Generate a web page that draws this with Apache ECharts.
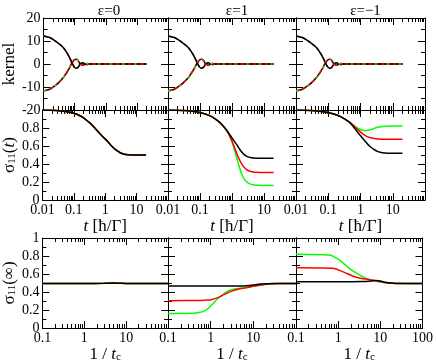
<!DOCTYPE html>
<html>
<head>
<meta charset="utf-8">
<script src="https://cdn.jsdelivr.net/npm/echarts@6/dist/echarts.min.js"></script>
<style>
html, body { margin: 0; padding: 0; background: #fff; }
#main { width: 436px; height: 364px; }
</style>
</head>
<body>
<div id="main"></div>
<script>
var FONT = 'Liberation Serif';
var BLACK = '#000000', RED = '#ff0000', GREEN = '#00ff00';

var titles = ['ε=0', 'ε=1', 'ε=−1'];

// kernel vs t (top row) - the three curves overlap in every panel
var kernelUp = [[0.01, 12.2], [0.015, 11.6], [0.02, 10.7], [0.03, 9.0], [0.042, 7.3], [0.055, 5.1],
  [0.068, 2.9], [0.08, 0.8], [0.09, -0.6], [0.1, -1.5], [0.115, -1.9], [0.13, -1.3], [0.145, -0.3],
  [0.16, 0.3], [0.185, 0.5], [0.21, 0.1], [0.24, -0.2], [0.28, 0], [0.4, 0], [1, 0], [20, 0]];
var kernelDown = [[0.01, -11.6], [0.015, -11.1], [0.02, -10.1], [0.03, -8.2], [0.042, -6.1], [0.055, -3.8],
  [0.068, -1.7], [0.08, 0.3], [0.09, 1.3], [0.1, 1.9], [0.115, 2.1], [0.13, 1.4], [0.145, 0.3],
  [0.16, -0.3], [0.185, -0.5], [0.21, -0.1], [0.24, 0.2], [0.28, 0], [0.4, 0], [1, 0], [20, 0]];

// sigma_11(t) (middle row)
var sigT_eps0 = [[0.01, 1], [0.02, 0.998], [0.04, 0.99], [0.068, 0.978], [0.1, 0.963], [0.14, 0.944],
  [0.2, 0.914], [0.29, 0.87], [0.4, 0.826], [0.59, 0.76], [0.8, 0.71], [1.2, 0.65], [1.6, 0.6],
  [2.2, 0.556], [3, 0.525], [4, 0.509], [5.5, 0.502], [8, 0.5], [20, 0.5]];
var sigT_eps1_black = [[0.01, 1], [0.03, 0.995], [0.05, 0.99], [0.1, 0.972], [0.2, 0.938], [0.3, 0.9],
  [0.45, 0.85], [0.7, 0.77], [1.0, 0.69], [1.4, 0.615], [1.8, 0.556], [2.3, 0.51], [2.9, 0.485],
  [3.7, 0.472], [4.6, 0.466], [8, 0.463], [20, 0.463]];
var sigT_eps1_red = [[0.01, 1], [0.03, 0.995], [0.05, 0.99], [0.1, 0.972], [0.2, 0.938], [0.3, 0.9],
  [0.45, 0.85], [0.7, 0.765], [0.9, 0.69], [1.15, 0.6], [1.47, 0.5], [1.75, 0.44], [2.1, 0.39],
  [2.6, 0.35], [3.2, 0.328], [4.2, 0.314], [5.9, 0.307], [10, 0.305], [20, 0.305]];
var sigT_eps1_green = [[0.01, 1], [0.03, 0.995], [0.05, 0.99], [0.1, 0.972], [0.2, 0.938], [0.3, 0.9],
  [0.45, 0.85], [0.7, 0.765], [0.9, 0.69], [1.1, 0.6], [1.35, 0.49], [1.65, 0.38], [2.0, 0.29],
  [2.4, 0.232], [3.0, 0.196], [3.8, 0.176], [5.0, 0.166], [8, 0.161], [20, 0.16]];
var sigT_epsm1_black = [[0.01, 1], [0.03, 0.995], [0.07, 0.98], [0.14, 0.958], [0.24, 0.926], [0.43, 0.87],
  [0.6, 0.815], [0.79, 0.76], [1.05, 0.705], [1.43, 0.65], [1.9, 0.6], [2.6, 0.562], [3.5, 0.537],
  [4.8, 0.526], [10, 0.52], [20, 0.52]];
var sigT_epsm1_red = [[0.01, 1], [0.03, 0.995], [0.07, 0.98], [0.14, 0.958], [0.24, 0.926], [0.43, 0.87],
  [0.6, 0.83], [0.8, 0.785], [1.13, 0.74], [1.5, 0.71], [2.06, 0.692], [3, 0.68], [4.2, 0.675], [20, 0.674]];
var sigT_epsm1_green = [[0.01, 1], [0.03, 0.995], [0.07, 0.98], [0.14, 0.958], [0.24, 0.926], [0.43, 0.87],
  [0.6, 0.832], [0.8, 0.8], [1.0, 0.783], [1.3, 0.773], [1.7, 0.775], [2.3, 0.787], [3.2, 0.805],
  [4.2, 0.815], [6, 0.82], [8.6, 0.822], [20, 0.822]];

// sigma_11(inf) vs 1/tc (bottom row)
var sigInf_eps0 = [[0.1, 0.495], [1, 0.495], [3, 0.496], [5, 0.5], [7, 0.497], [10, 0.495], [100, 0.495]];
var sigInf_eps1_black = [[0.1, 0.467], [1, 0.467], [3, 0.467], [6, 0.468], [9, 0.475], [15, 0.488],
  [30, 0.494], [100, 0.495]];
var sigInf_eps1_red = [[0.1, 0.304], [0.5, 0.305], [0.8, 0.31], [1.03, 0.315], [1.48, 0.337], [2.1, 0.374],
  [3, 0.407], [4.4, 0.43], [6.2, 0.443], [10.7, 0.467], [20, 0.486], [40, 0.494], [100, 0.495]];
var sigInf_eps1_green = [[0.1, 0.16], [0.3, 0.162], [0.5, 0.17], [0.72, 0.19], [1.03, 0.25], [1.48, 0.33],
  [2.1, 0.385], [2.8, 0.42], [4.4, 0.44], [6.2, 0.447], [10.7, 0.467], [20, 0.486], [40, 0.494], [100, 0.495]];
var sigInf_epsm1_black = [[0.1, 0.515], [1, 0.515], [4, 0.516], [6, 0.522], [7.8, 0.527], [10, 0.522],
  [13, 0.508], [20, 0.498], [30, 0.495], [100, 0.495]];
var sigInf_epsm1_red = [[0.1, 0.67], [0.4, 0.668], [0.75, 0.663], [1.28, 0.626], [2.2, 0.578], [3.2, 0.556],
  [4.5, 0.544], [7.8, 0.526], [13.3, 0.504], [20, 0.497], [30, 0.495], [100, 0.495]];
var sigInf_epsm1_green = [[0.1, 0.819], [0.4, 0.815], [0.63, 0.81], [0.85, 0.785], [1.07, 0.756],
  [1.4, 0.71], [1.84, 0.663], [2.5, 0.62], [3.2, 0.59], [4.2, 0.56], [5.4, 0.54], [9.3, 0.515],
  [16, 0.5], [30, 0.496], [100, 0.495]];

// axis ranges
var xMinRow = [0.01, 0.01, 0.1];
var xMax = 100;
var yRangeRow = [[-20, 20, 10], [0, 1, 0.2], [0, 1, 0.2]];

// layout
var colLeft = [40, 168, 296];
var colWidth = [128, 128, 129];
var rowTop = [18, 110, 238];
var rowHeight = [92, 90, 90];

var rich = {
  n: { fontFamily: FONT, fontSize: 17 },
  i: { fontFamily: FONT, fontSize: 17, fontStyle: 'italic' },
  s: { fontFamily: FONT, fontSize: 11, verticalAlign: 'bottom', lineHeight: 14, padding: [6, 0, 0, 0] }
};
var yNames = ['{n|kernel}', '{n|σ}{s|11}{n|(}{i|t}{n|)}', '{n|σ}{s|11}{n|(∞)}'];
var xNames = ['', '{i|t}{n| [ħ/Γ]}', '{n|1 / }{i|t}{s|c}'];

var kernelLines = [[kernelUp, RED, [4, 2]], [kernelUp, GREEN, [2, 10]], [kernelUp, BLACK, 'solid'],
  [kernelDown, BLACK, 'solid'], [kernelDown, RED, [4, 2]], [kernelDown, GREEN, [2, 10]]];
var panels = [
  [kernelLines, kernelLines, kernelLines],
  [
    [[sigT_eps0, GREEN, 'solid'], [sigT_eps0, RED, 'solid'], [sigT_eps0, BLACK, 'solid']],
    [[sigT_eps1_green, GREEN, 'solid'], [sigT_eps1_red, RED, 'solid'], [sigT_eps1_black, BLACK, 'solid']],
    [[sigT_epsm1_green, GREEN, 'solid'], [sigT_epsm1_red, RED, 'solid'], [sigT_epsm1_black, BLACK, 'solid']]
  ],
  [
    [[sigInf_eps0, GREEN, 'solid'], [sigInf_eps0, RED, 'solid'], [sigInf_eps0, BLACK, 'solid']],
    [[sigInf_eps1_green, GREEN, 'solid'], [sigInf_eps1_red, RED, 'solid'], [sigInf_eps1_black, BLACK, 'solid']],
    [[sigInf_epsm1_green, GREEN, 'solid'], [sigInf_epsm1_red, RED, 'solid'], [sigInf_epsm1_black, BLACK, 'solid']]
  ]
];

// minor tick positions (2..9 per decade), in log10 units for an overlay value axis
function minorLogValues(min, max) {
  var out = [];
  for (var d = min; d < max * 0.999; d *= 10) {
    for (var k = 2; k <= 9; k++) out.push(Math.log10(d * k));
  }
  return out;
}

function fmt(v) { return String(parseFloat(Number(v).toPrecision(4))); }

var grids = [], xAxes = [], yAxes = [], series = [];

for (var r = 0; r < 3; r++) {
  for (var c = 0; c < 3; c++) {
    var g = grids.length;
    grids.push({ left: colLeft[c], top: rowTop[r], width: colWidth[c], height: rowHeight[r] });
    var xmin = xMinRow[r];
    var minors = minorLogValues(xmin, xMax);
    ['bottom', 'top'].forEach(function (pos) {
      var isBottom = pos === 'bottom';
      xAxes.push({
        type: 'log', logBase: 10, gridIndex: g, position: pos, min: xmin, max: xMax,
        splitLine: { show: false },
        axisLine: { show: true, onZero: false, lineStyle: { color: BLACK, width: 1 } },
        axisTick: { inside: true, length: 7, lineStyle: { color: BLACK } },
        axisLabel: {
          show: isBottom && r > 0, margin: 3, color: BLACK, fontFamily: FONT, fontSize: 14,
          showMinLabel: true, showMaxLabel: r === 2 && c === 2, formatter: fmt
        },
        name: isBottom && r > 0 ? xNames[r] : '',
        nameLocation: 'middle', nameGap: 17,
        nameTextStyle: { rich: rich }
      });
      xAxes.push({
        type: 'value', gridIndex: g, position: pos, min: Math.log10(xmin), max: Math.log10(xMax),
        splitLine: { show: false },
        axisLine: { show: false, onZero: false },
        axisTick: { inside: true, length: 4, customValues: minors, lineStyle: { color: BLACK } },
        axisLabel: { show: false }
      });
    });
    var yr = yRangeRow[r];
    ['left', 'right'].forEach(function (pos) {
      var isLeft = pos === 'left';
      yAxes.push({
        type: 'value', gridIndex: g, position: pos, min: yr[0], max: yr[1], interval: yr[2],
        splitLine: { show: false },
        axisLine: { show: true, onZero: false, lineStyle: { color: BLACK, width: 1 } },
        axisTick: { inside: true, length: 7, lineStyle: { color: BLACK } },
        minorTick: { show: true, splitNumber: 2, length: 4, lineStyle: { color: BLACK } },
        axisLabel: {
          show: isLeft && c === 0, margin: 3, color: BLACK, fontFamily: FONT, fontSize: 14,
          showMaxLabel: r !== 1, showMinLabel: true
        },
        name: isLeft && c === 0 ? yNames[r] : '',
        nameLocation: 'middle', nameRotate: 90, nameGap: 22,
        nameTextStyle: { rich: rich }
      });
    });
    panels[r][c].forEach(function (ln) {
      series.push({
        type: 'line', xAxisIndex: 4 * g, yAxisIndex: 2 * g,
        data: ln[0], showSymbol: false, symbol: 'none',
        smooth: 0.4,
        lineStyle: { color: ln[1], width: 1.5, type: ln[2] },
        silent: true, animation: false
      });
    });
  }
}

var titleComps = titles.map(function (t, i) {
  return {
    text: t, left: colLeft[i] + colWidth[i] / 2, top: -1, textAlign: 'center',
    textStyle: { fontFamily: FONT, fontSize: 15, fontWeight: 'normal', color: BLACK }
  };
});

var myChart = echarts.init(document.getElementById('main'), null, { renderer: 'canvas' });
var option = {
  backgroundColor: '#fff',
  animation: false,
  title: titleComps,
  grid: grids,
  xAxis: xAxes,
  yAxis: yAxes,
  series: series
};
myChart.setOption(option, true);
</script>
</body>
</html>
